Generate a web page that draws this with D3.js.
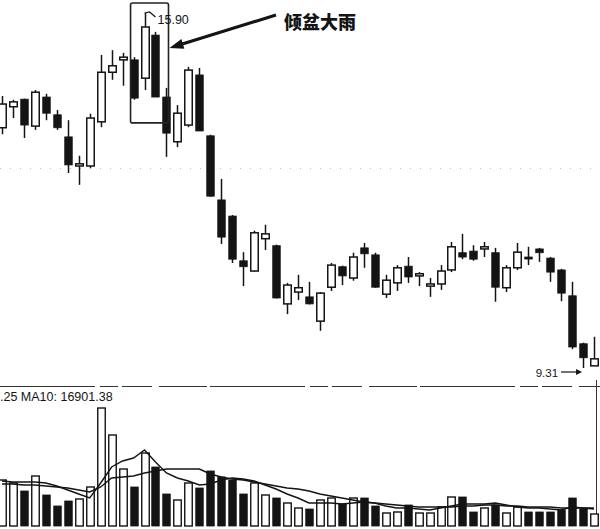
<!DOCTYPE html>
<html><head><meta charset="utf-8">
<script src="https://cdn.jsdelivr.net/npm/d3@7"></script>
<style>html,body{margin:0;padding:0;background:#fff;} svg{display:block;}</style>
</head><body>
<svg id="chart" width="600" height="529"></svg>
<script>
// ---- data ----
const openP  = [13.77,14.16,14.30,13.80,14.34,14.01,13.60,13.06,13.06,13.88,14.80,15.03,15.03,14.69,15.49,14.34,13.51,13.82,14.75,13.62,12.43,12.13,11.30,11.11,11.71,11.58,10.50,10.72,10.63,10.18,10.81,11.19,10.98,11.54,11.41,10.68,10.89,11.20,11.02,10.83,10.87,11.13,11.45,11.48,11.52,11.45,10.80,11.17,11.37,11.52,11.35,11.13,10.65,9.76,9.35];
const closeP = [14.21,14.25,13.82,14.43,14.04,13.77,13.08,13.10,13.95,14.80,14.92,15.08,14.32,15.64,14.34,13.67,14.04,14.84,13.71,12.50,11.74,11.33,11.19,11.82,11.80,10.61,10.85,10.80,10.50,10.70,11.22,11.02,11.37,11.43,10.81,10.94,11.17,11.00,11.06,10.87,11.11,11.56,11.37,11.33,11.56,10.81,11.17,11.46,11.34,11.45,11.09,10.70,9.70,9.50,9.48];
const highP  = [14.36,14.29,14.31,14.47,14.40,14.10,13.91,13.25,14.03,15.12,15.21,15.16,15.08,15.90,15.55,14.51,14.19,14.90,14.88,13.64,12.82,12.15,11.46,11.86,11.97,11.60,10.89,11.04,10.91,10.72,11.26,11.21,11.45,11.63,11.45,11.04,11.22,11.37,11.09,10.98,11.22,11.65,11.80,11.59,11.65,11.54,11.22,11.63,11.56,11.54,11.37,11.15,10.91,9.78,9.89];
const lowP   = [13.65,13.95,13.58,13.73,13.91,13.73,12.93,12.71,13.02,13.78,14.66,14.55,14.29,14.47,14.34,13.23,13.41,13.78,13.71,12.49,11.61,11.26,10.83,11.10,11.50,10.60,10.31,10.57,10.49,10.00,10.74,10.85,10.93,11.17,10.80,10.61,10.74,10.89,10.83,10.63,10.76,11.09,11.33,11.30,11.37,10.54,10.72,11.13,11.22,11.28,10.91,10.55,9.66,9.31,9.35];
const volume = [43240,40420,32900,47000,29140,18800,23500,25380,36660,110920,85540,53580,36660,68620,55460,30080,24440,40420,35720,51700,46060,43240,30080,40420,29140,26320,21620,16920,15980,24440,26320,20680,26320,26320,18800,12220,13160,19740,12220,12220,17860,27260,27260,13160,16920,19740,12220,17860,13160,13160,13160,15040,26320,15980,11280];
const ma5    = [42300,41360,41360,41360,40420,37600,33840,30080,26320,40420,55460,61100,63920,71440,60160,49820,45120,42300,38540,39480,43240,45120,44180,42300,38540,34780,30080,26320,21620,21620,21620,20680,21620,22560,21620,18800,16920,16920,15980,15040,16920,18800,20680,20680,20680,21620,19740,17860,16920,16920,15980,15040,17860,16920,15980];
const ma10   = [39480,39480,38540,38540,37600,36660,35720,33840,31960,36660,45120,46060,47000,49820,51700,53580,53580,53580,53580,48880,46060,44180,43240,41360,39480,37600,35720,34780,32900,30080,28200,26320,24440,22560,21620,20680,19740,18800,17860,17860,17860,17860,18800,18800,19740,19740,18800,18800,17860,17860,17860,16920,16920,16920,16901.38];
const peakLabel = "15.90";
const lowLabel = "9.31";
const volLabel = ".25 MA10: 16901.38";
const noteText = "倾盆大雨";

// ---- scales ----
const idx = d3.range(openP.length);
const svg = d3.select("#chart");
const ink = "#141414";
const x = d3.scalePoint().domain(idx).range([2, 594]);
const y = d3.scaleLinear().domain([9.31, 15.90]).range([368, 13]);
const yv = d3.scaleLinear().domain([0, 127840]).range([526, 390]);
const bw = 7.5;

// faint dotted grid line
svg.append("line").attr("x1",0).attr("x2",600).attr("y1",168.5).attr("y2",168.5)
  .attr("stroke","#bbb").attr("stroke-width",1).attr("stroke-dasharray","1,9");

// ---- candles ----
const g = svg.append("g");
idx.forEach(i => {
  const up = closeP[i] >= openP[i];
  const cx = Math.round(x(i)) + 0.5;
  g.append("line").attr("x1",cx).attr("x2",cx)
    .attr("y1",y(highP[i])).attr("y2",y(lowP[i]))
    .attr("stroke",ink).attr("stroke-width",1.5);
  const top = y(Math.max(openP[i],closeP[i]));
  const bot = y(Math.min(openP[i],closeP[i]));
  const h = Math.max(bot-top, 2);
  g.append("rect").attr("x",cx-bw/2).attr("y",top).attr("width",bw).attr("height",h)
    .attr("fill", up ? "#fff" : ink).attr("stroke",ink).attr("stroke-width", up ? 1.5 : 0.8);
});

// ---- annotation: box, arrow, labels ----
const bx0 = x(12) - 3, bx1 = x(14) + 13;
const byTop = y(15.90) - 10, byBot = y(13.86);
svg.append("rect").attr("x",bx0).attr("y",byTop).attr("width",bx1-bx0)
  .attr("height", byBot-byTop).attr("rx",2)
  .attr("fill","none").attr("stroke","#222").attr("stroke-width",1.6);
const px = x(13), py = y(highP[13]);
svg.append("path").attr("d",`M${px},${py} L${px+5},${py-1} L${px+11},${py+4}`)
  .attr("fill","none").attr("stroke",ink).attr("stroke-width",1.2);
svg.append("text").attr("x",px+13).attr("y",py+11).text(peakLabel)
  .attr("font-family","Liberation Sans, Arial, sans-serif").attr("font-size",12.5).attr("fill",ink);

// big arrow to the box
const ax0 = 276, ay0 = 15, ax1 = bx1 + 1, ay1 = 48;
const ang = Math.atan2(ay1-ay0, ax1-ax0);
svg.append("line").attr("x1",ax0).attr("y1",ay0)
  .attr("x2",ax1 - 10*Math.cos(ang)).attr("y2",ay1 - 10*Math.sin(ang))
  .attr("stroke",ink).attr("stroke-width",3.2);
const hl = 14, hw = 5;
const bxh = ax1 - hl*Math.cos(ang), byh = ay1 - hl*Math.sin(ang);
svg.append("path").attr("d",
  `M${ax1},${ay1} L${bxh + hw*Math.sin(ang)},${byh - hw*Math.cos(ang)} L${bxh - hw*Math.sin(ang)},${byh + hw*Math.cos(ang)} Z`)
  .attr("fill",ink);
svg.append("text").attr("x",284).attr("y",29).text(noteText)
  .attr("font-family","Noto Sans CJK SC, sans-serif").attr("font-weight",900)
  .attr("font-size",18).attr("fill",ink);

// low label
const lx = x(53), ly = y(lowP[53]) + 4;
svg.append("line").attr("x1",lx-22).attr("x2",lx-4).attr("y1",ly).attr("y2",ly)
  .attr("stroke",ink).attr("stroke-width",1.2);
svg.append("path").attr("d",`M${lx-1},${ly} L${lx-7},${ly-3} L${lx-7},${ly+3} Z`).attr("fill",ink);
svg.append("text").attr("x",lx-25).attr("y",ly+4.5).attr("text-anchor","end").text(lowLabel)
  .attr("font-family","Liberation Sans, Arial, sans-serif").attr("font-size",11.5).attr("fill",ink);

// ---- volume pane ----
svg.append("line").attr("x1",0).attr("x2",600).attr("y1",386.5).attr("y2",386.5)
  .attr("stroke","#333").attr("stroke-width",1.2).attr("stroke-dasharray","95,5,18,4,30,7,48,3");
svg.append("line").attr("x1",596.5).attr("x2",596.5).attr("y1",380).attr("y2",521)
  .attr("stroke","#333").attr("stroke-width",1);
svg.append("text").attr("x",0).attr("y",401).text(volLabel)
  .attr("font-family","Liberation Sans, Arial, sans-serif").attr("font-size",12.5).attr("fill",ink);

const vg = svg.append("g");
idx.forEach(i => {
  const up = closeP[i] >= openP[i];
  const cx = Math.round(x(i)) + 0.5;
  vg.append("rect").attr("x",cx-bw/2).attr("y",yv(volume[i])).attr("width",bw)
    .attr("height",yv(0)-yv(volume[i]))
    .attr("fill", up ? "#fff" : ink).attr("stroke",ink).attr("stroke-width", up ? 1.4 : 0.8);
});
const line = d3.line().x((d,i)=>x(i)).y(d=>yv(d)).curve(d3.curveLinear);
svg.append("path").datum(ma10).attr("d",line).attr("fill","none").attr("stroke",ink).attr("stroke-width",1.4);
svg.append("path").datum(ma5).attr("d",line).attr("fill","none").attr("stroke",ink).attr("stroke-width",1.4);
</script>
</body></html>
